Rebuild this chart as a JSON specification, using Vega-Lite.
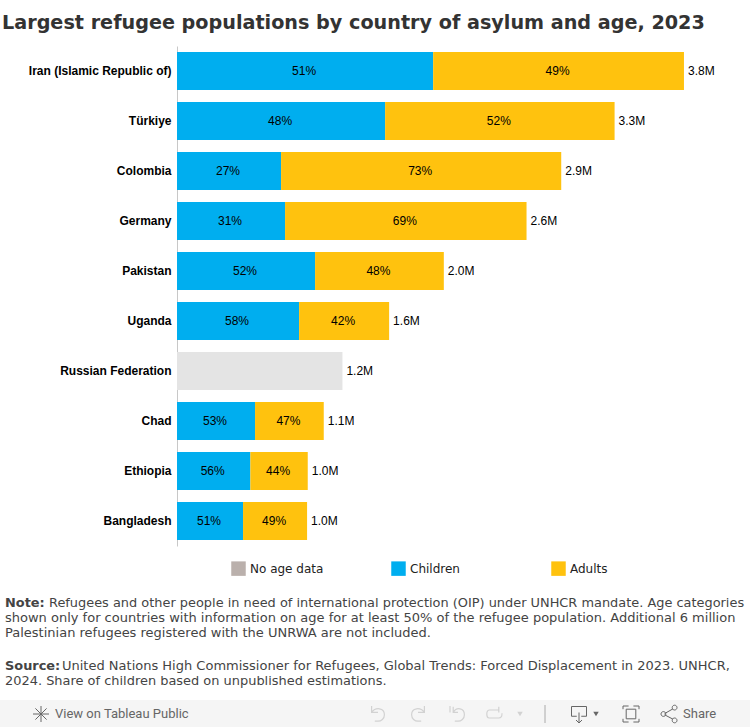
{
"$schema":"https://vega.github.io/schema/vega-lite/v6.json",
"width":573,"height":500,
"autosize":{"type":"none"},
"padding":{"left":177,"top":46,"right":0,"bottom":181},
"background":"white",
"view":{"stroke":null},
"title":{"text":"Largest refugee populations by country of asylum and age, 2023","anchor":"start","frame":"group","dx":-175,"offset":13,"font":"DejaVu Sans","fontSize":19.2,"fontWeight":"bold","color":"#333333"},
"datasets":{
"bars":[
{"country":"Iran (Islamic Republic of)","segment":"Children","seq":1,"value":1.92,"share":0.51},
{"country":"Iran (Islamic Republic of)","segment":"Adults","seq":2,"value":1.88,"share":0.49},
{"country":"Türkiye","segment":"Children","seq":1,"value":1.56,"share":0.48},
{"country":"Türkiye","segment":"Adults","seq":2,"value":1.72,"share":0.52},
{"country":"Colombia","segment":"Children","seq":1,"value":0.78,"share":0.27},
{"country":"Colombia","segment":"Adults","seq":2,"value":2.10,"share":0.73},
{"country":"Germany","segment":"Children","seq":1,"value":0.81,"share":0.31},
{"country":"Germany","segment":"Adults","seq":2,"value":1.81,"share":0.69},
{"country":"Pakistan","segment":"Children","seq":1,"value":1.035,"share":0.52},
{"country":"Pakistan","segment":"Adults","seq":2,"value":0.965,"share":0.48},
{"country":"Uganda","segment":"Children","seq":1,"value":0.915,"share":0.58},
{"country":"Uganda","segment":"Adults","seq":2,"value":0.675,"share":0.42},
{"country":"Russian Federation","segment":"No age data","seq":1,"value":1.24},
{"country":"Chad","segment":"Children","seq":1,"value":0.585,"share":0.53},
{"country":"Chad","segment":"Adults","seq":2,"value":0.515,"share":0.47},
{"country":"Ethiopia","segment":"Children","seq":1,"value":0.55,"share":0.56},
{"country":"Ethiopia","segment":"Adults","seq":2,"value":0.43,"share":0.44},
{"country":"Bangladesh","segment":"Children","seq":1,"value":0.495,"share":0.51},
{"country":"Bangladesh","segment":"Adults","seq":2,"value":0.48,"share":0.49}
],
"totals":[
{"country":"Iran (Islamic Republic of)","total":3.80,"label":"3.8M"},
{"country":"Türkiye","total":3.28,"label":"3.3M"},
{"country":"Colombia","total":2.88,"label":"2.9M"},
{"country":"Germany","total":2.62,"label":"2.6M"},
{"country":"Pakistan","total":2.00,"label":"2.0M"},
{"country":"Uganda","total":1.59,"label":"1.6M"},
{"country":"Russian Federation","total":1.24,"label":"1.2M"},
{"country":"Chad","total":1.10,"label":"1.1M"},
{"country":"Ethiopia","total":0.98,"label":"1.0M"},
{"country":"Bangladesh","total":0.975,"label":"1.0M"}
],
"notes":[
{"line":"n1","part":"head","text":"Note:"},
{"line":"n1","part":"first","text":"Refugees and other people in need of international protection (OIP) under UNHCR mandate. Age categories"},
{"line":"n2","part":"cont","text":"shown only for countries with information on age for at least 50% of the refugee population. Additional 6 million"},
{"line":"n3","part":"cont","text":"Palestinian refugees registered with the UNRWA are not included."}
],
"sources":[
{"line":"s1","part":"head","text":"Source:"},
{"line":"s1","part":"first","text":"United Nations High Commissioner for Refugees, Global Trends: Forced Displacement in 2023. UNHCR,"},
{"line":"s2","part":"cont","text":"2024. Share of children based on unpublished estimations."}
],
"one":[{"k":"a"}]
},
"resolve":{"scale":{"x":"independent","y":"independent"}},
"layer":[
{
"encoding":{"y":{"field":"country","type":"nominal","title":null,
"sort":["Iran (Islamic Republic of)","Türkiye","Colombia","Germany","Pakistan","Uganda","Russian Federation","Chad","Ethiopia","Bangladesh"],
"scale":{"domain":["Iran (Islamic Republic of)","Türkiye","Colombia","Germany","Pakistan","Uganda","Russian Federation","Chad","Ethiopia","Bangladesh"],"paddingInner":0.24,"paddingOuter":0.12},
"axis":{"ticks":false,"labelFont":"Liberation Sans","labelFontSize":12,"labelFontWeight":"bold","labelColor":"#000000","labelPadding":6,"domainColor":"#c8c8c8","labelLimit":200,"grid":false}}},
"layer":[
{"data":{"name":"bars"},"transform":[{"filter":"datum.share!=null"}],"mark":{"type":"bar"},
"encoding":{
"x":{"field":"value","type":"quantitative","stack":"zero","scale":{"domain":[0,4.295],"nice":false,"zero":true},"axis":null},
"color":{"field":"segment","type":"nominal","scale":{"domain":["No age data","Children","Adults"],"range":["#bab0ac","#00aeef","#ffc20e"]},
"legend":{"title":null,"orient":"none","legendX":54,"legendY":515,"direction":"horizontal","columns":3,"gridAlign":"all","columnPadding":67,"symbolType":"square","symbolSize":210,"symbolStrokeWidth":0,"symbolOpacity":1,"labelFont":"DejaVu Sans","labelFontSize":12,"labelColor":"#222222","labelOffset":4}},
"order":{"field":"seq","type":"quantitative"}}},
{"data":{"name":"bars"},"transform":[{"filter":"datum.share==null"}],"mark":{"type":"bar","color":"#e4e4e4"},
"encoding":{
"x":{"field":"value","type":"quantitative","stack":null,"scale":{"domain":[0,4.295],"nice":false,"zero":true},"axis":null}}},
{"data":{"name":"bars"},"transform":[{"filter":"datum.share!=null"}],
"mark":{"type":"text","font":"Liberation Sans","fontSize":12,"color":"#000000","dx":-1},
"encoding":{
"x":{"field":"value","type":"quantitative","stack":"zero","bandPosition":0.5,"scale":{"domain":[0,4.295],"nice":false,"zero":true},"axis":null},
"detail":{"field":"segment"},
"order":{"field":"seq","type":"quantitative"},
"text":{"field":"share","type":"quantitative","format":".0%"}}},
{"data":{"name":"totals"},
"mark":{"type":"text","font":"Liberation Sans","fontSize":12,"color":"#000000","align":"left","dx":4},
"encoding":{
"x":{"field":"total","type":"quantitative","scale":{"domain":[0,4.295],"nice":false,"zero":true},"axis":null},
"text":{"field":"label"}}}
]},
{"data":{"name":"notes"},"transform":[{"filter":"datum.part==='head'"}],
"mark":{"type":"text","align":"left","baseline":"middle","font":"DejaVu Sans","fontSize":12.9,"fontWeight":"bold","color":"#444444"},
"encoding":{"x":{"datum":0,"scale":{"domain":[0,750],"range":[-172,1328]},"axis":null},"y":{"field":"line","type":"nominal","scale":{"type":"point","padding":0,"domain":["n1","n2","n3"],"range":[556.5,586.5]},"axis":null},"text":{"field":"text"}}},
{"data":{"name":"notes"},"transform":[{"filter":"datum.part==='first'"}],
"mark":{"type":"text","align":"left","baseline":"middle","font":"DejaVu Sans","fontSize":12.92,"color":"#444444","dx":44},
"encoding":{"x":{"datum":0,"scale":{"domain":[0,750],"range":[-172,1328]},"axis":null},"y":{"field":"line","type":"nominal","scale":{"type":"point","padding":0,"domain":["n1","n2","n3"],"range":[556.5,586.5]},"axis":null},"text":{"field":"text"}}},
{"data":{"name":"notes"},"transform":[{"filter":"datum.part==='cont'"}],
"mark":{"type":"text","align":"left","baseline":"middle","font":"DejaVu Sans","fontSize":13,"color":"#444444"},
"encoding":{"x":{"datum":0,"scale":{"domain":[0,750],"range":[-172,1328]},"axis":null},"y":{"field":"line","type":"nominal","scale":{"type":"point","padding":0,"domain":["n1","n2","n3"],"range":[556.5,586.5]},"axis":null},"text":{"field":"text"}}},
{"data":{"name":"sources"},"transform":[{"filter":"datum.part==='head'"}],
"mark":{"type":"text","align":"left","baseline":"middle","font":"DejaVu Sans","fontSize":12.9,"fontWeight":"bold","color":"#444444"},
"encoding":{"x":{"datum":0,"scale":{"domain":[0,750],"range":[-172,1328]},"axis":null},"y":{"field":"line","type":"nominal","scale":{"type":"point","padding":0,"domain":["s1","s2"],"range":[620,635]},"axis":null},"text":{"field":"text"}}},
{"data":{"name":"sources"},"transform":[{"filter":"datum.part==='first'"}],
"mark":{"type":"text","align":"left","baseline":"middle","font":"DejaVu Sans","fontSize":13,"color":"#444444","dx":57},
"encoding":{"x":{"datum":0,"scale":{"domain":[0,750],"range":[-172,1328]},"axis":null},"y":{"field":"line","type":"nominal","scale":{"type":"point","padding":0,"domain":["s1","s2"],"range":[620,635]},"axis":null},"text":{"field":"text"}}},
{"data":{"name":"sources"},"transform":[{"filter":"datum.part==='cont'"}],
"mark":{"type":"text","align":"left","baseline":"middle","font":"DejaVu Sans","fontSize":12.95,"color":"#444444"},
"encoding":{"x":{"datum":0,"scale":{"domain":[0,750],"range":[-172,1328]},"axis":null},"y":{"field":"line","type":"nominal","scale":{"type":"point","padding":0,"domain":["s1","s2"],"range":[620,635]},"axis":null},"text":{"field":"text"}}},
{"data":{"name":"one"},"mark":{"type":"rect","color":"#f5f5f5"},
"encoding":{"x":{"datum":0,"scale":{"domain":[0,750],"range":[-177,573]},"axis":null},"x2":{"datum":750},"y":{"datum":700,"scale":{"domain":[700,727],"range":[654,681]},"axis":null},"y2":{"datum":727}}},
{"data":{"values":[{"item":"View on Tableau Public"}]},"mark":{"type":"text","align":"left","baseline":"middle","font":"Roboto","fontSize":13,"color":"#666666"},
"encoding":{"x":{"datum":55,"scale":{"domain":[0,750],"range":[-177,573]},"axis":null},"y":{"datum":714,"scale":{"domain":[700,727],"range":[654,681]},"axis":null},"text":{"field":"item"}}},
{"data":{"values":[{"item":"Share"}]},"mark":{"type":"text","align":"left","baseline":"middle","font":"Roboto","fontSize":13,"color":"#666666"},
"encoding":{"x":{"datum":683,"scale":{"domain":[0,750],"range":[-177,573]},"axis":null},"y":{"datum":714,"scale":{"domain":[700,727],"range":[654,681]},"axis":null},"text":{"field":"item"}}},
{"data":{"name":"one"},"mark":{"type":"point","shape":"M-1,0H1M0,-1V1M-0.7,-0.7L0.7,0.7M-0.7,0.7L0.7,-0.7","size":256,"filled":false,"stroke":"#666666","strokeWidth":1,"opacity":1},
"encoding":{"x":{"datum":41,"scale":{"domain":[0,750],"range":[-177,573]},"axis":null},"y":{"datum":714,"scale":{"domain":[700,727],"range":[654,681]},"axis":null}}},
{"data":{"name":"one"},"mark":{"type":"point","shape":"M-0.8,-1V-0.2H0M-0.8,-0.2C-0.3,-0.9,0.8,-0.8,0.8,0.1C0.8,0.6,0.4,0.9,0,0.9H-0.4","size":256,"filled":false,"stroke":"#d2d2d2","strokeWidth":1.2,"opacity":1},
"encoding":{"x":{"datum":378,"scale":{"domain":[0,750],"range":[-177,573]},"axis":null},"y":{"datum":714,"scale":{"domain":[700,727],"range":[654,681]},"axis":null}}},
{"data":{"name":"one"},"mark":{"type":"point","shape":"M0.8,-1V-0.2H0M0.8,-0.2C0.3,-0.9,-0.8,-0.8,-0.8,0.1C-0.8,0.6,-0.4,0.9,0,0.9H0.4","size":256,"filled":false,"stroke":"#d2d2d2","strokeWidth":1.2,"opacity":1},
"encoding":{"x":{"datum":418,"scale":{"domain":[0,750],"range":[-177,573]},"axis":null},"y":{"datum":714,"scale":{"domain":[700,727],"range":[654,681]},"axis":null}}},
{"data":{"name":"one"},"mark":{"type":"point","shape":"M-1,-1V-0.2M-0.6,-0.9V-0.2H0M-0.6,-0.2C-0.2,-0.9,0.8,-0.8,0.8,0.1C0.8,0.6,0.4,0.9,0,0.9H-0.4","size":256,"filled":false,"stroke":"#d2d2d2","strokeWidth":1.2,"opacity":1},
"encoding":{"x":{"datum":458,"scale":{"domain":[0,750],"range":[-177,573]},"axis":null},"y":{"datum":714,"scale":{"domain":[700,727],"range":[654,681]},"axis":null}}},
{"data":{"name":"one"},"mark":{"type":"point","shape":"M0.6,-0.5H-0.6C-1,-0.5,-1,0.5,-0.6,0.5H0.6C1,0.5,1,0.1,1,-0.1M0.6,-0.9V-0.2","size":256,"filled":false,"stroke":"#d2d2d2","strokeWidth":1.2,"opacity":1},
"encoding":{"x":{"datum":494,"scale":{"domain":[0,750],"range":[-177,573]},"axis":null},"y":{"datum":714,"scale":{"domain":[700,727],"range":[654,681]},"axis":null}}},
{"data":{"name":"one"},"mark":{"type":"point","shape":"triangle-down","size":30,"filled":true,"color":"#d2d2d2","opacity":1},
"encoding":{"x":{"datum":520,"scale":{"domain":[0,750],"range":[-177,573]},"axis":null},"y":{"datum":714,"scale":{"domain":[700,727],"range":[654,681]},"axis":null}}},
{"data":{"name":"one"},"mark":{"type":"point","shape":"M0,-1V1","size":324,"filled":false,"stroke":"#aaaaaa","strokeWidth":1,"opacity":1},
"encoding":{"x":{"datum":545,"scale":{"domain":[0,750],"range":[-177,573]},"axis":null},"y":{"datum":714,"scale":{"domain":[700,727],"range":[654,681]},"axis":null}}},
{"data":{"name":"one"},"mark":{"type":"point","shape":"M-0.3,0.3H-1V-1H1V0.3H0.3M0,-0.2V1.2M-0.4,0.8L0,1.2L0.4,0.8","size":225,"filled":false,"stroke":"#666666","strokeWidth":1,"opacity":1},
"encoding":{"x":{"datum":579,"scale":{"domain":[0,750],"range":[-177,573]},"axis":null},"y":{"datum":714,"scale":{"domain":[700,727],"range":[654,681]},"axis":null}}},
{"data":{"name":"one"},"mark":{"type":"point","shape":"triangle-down","size":30,"filled":true,"color":"#666666","opacity":1},
"encoding":{"x":{"datum":596,"scale":{"domain":[0,750],"range":[-177,573]},"axis":null},"y":{"datum":714,"scale":{"domain":[700,727],"range":[654,681]},"axis":null}}},
{"data":{"name":"one"},"mark":{"type":"point","shape":"M-1,-0.6V-1H-0.3M0.3,-1H1V-0.6M1,0.6V1H0.3M-0.3,1H-1V0.6M-0.6,-0.6H0.6V0.6H-0.6Z","size":256,"filled":false,"stroke":"#666666","strokeWidth":1,"opacity":1},
"encoding":{"x":{"datum":631,"scale":{"domain":[0,750],"range":[-177,573]},"axis":null},"y":{"datum":714,"scale":{"domain":[700,727],"range":[654,681]},"axis":null}}},
{"data":{"name":"one"},"mark":{"type":"point","shape":"M-0.55,-0.05L0.5,-0.65M-0.55,0.1L0.5,0.65M-0.4,0A0.3,0.3,0,1,1,-1,0A0.3,0.3,0,1,1,-0.4,0ZM1,-0.8A0.3,0.3,0,1,1,0.4,-0.8A0.3,0.3,0,1,1,1,-0.8ZM1,0.8A0.3,0.3,0,1,1,0.4,0.8A0.3,0.3,0,1,1,1,0.8Z","size":256,"filled":false,"stroke":"#666666","strokeWidth":1,"opacity":1},
"encoding":{"x":{"datum":669,"scale":{"domain":[0,750],"range":[-177,573]},"axis":null},"y":{"datum":714,"scale":{"domain":[700,727],"range":[654,681]},"axis":null}}}
]
}
